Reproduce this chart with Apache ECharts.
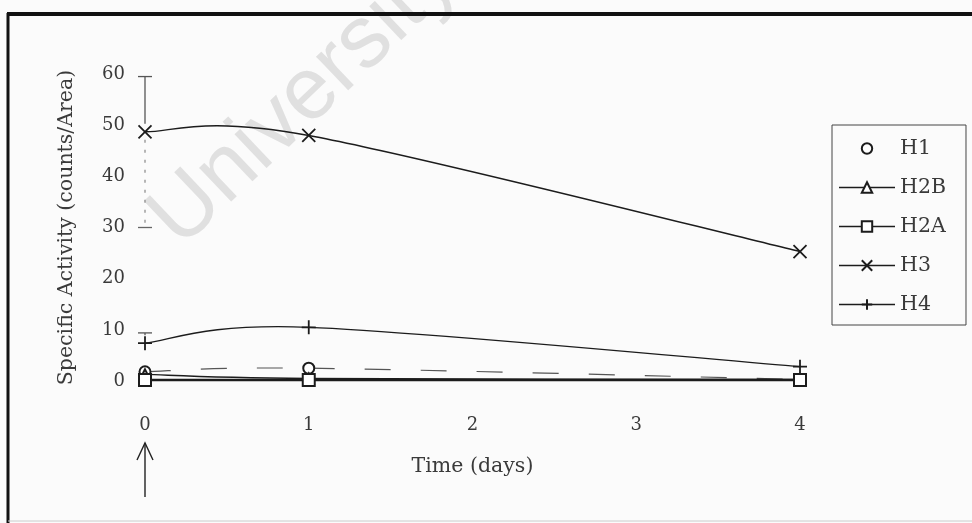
<!DOCTYPE html>
<html>
<head>
<meta charset="utf-8">
<script src="https://cdn.jsdelivr.net/npm/echarts@6/dist/echarts.min.js"></script>
<style>
  html, body { margin: 0; padding: 0; background: #fbfbfb; }
  #chart { width: 972px; height: 523px; }
</style>
</head>
<body>
<div id="chart"></div>
<script>
// Sampling times (days after injection) and specific activity per histone
const days = [0, 1, 4];
const xTickValues = [0, 1, 2, 3, 4];
const yTickValues = [0, 10, 20, 30, 40, 50, 60];
const seriesNames = ['H1', 'H2B', 'H2A', 'H3', 'H4'];
const h1 = [1.8, 2.5, 0.3];
const h2b = [1.3, 0.5, 0.3];
const h2a = [0.2, 0.2, 0.2];
const h3 = [48.7, 48.0, 25.3];
const h4 = [7.4, 10.5, 2.8];
// Error bars at day 0: [day, mean, low, high]
const h3Err = [[0, 48.7, 30.0, 59.5]];
const h4Err = [[0, 7.4, 7.4, 9.4]];

const SERIF = '"DejaVu Serif", "Liberation Serif", serif';
const INK = '#1c1c1c';
const TEXT = '#3a3a3a';

function pairs(ys) { return days.map((d, i) => [d, ys[i]]); }

// Smoothed connector: cubic Bezier per segment, control arms = 1/6 of the
// neighbour-to-neighbour chord (end points reuse themselves as neighbours)
function curveSeries(name, ys, lineStyle, z) {
  return {
    name: name, type: 'custom', data: pairs(ys), z: z, silent: true,
    encode: { x: 0, y: 1 },
    renderItem: function (params, api) {
      const i = params.dataIndex;
      if (i >= days.length - 1) return null;
      const n = days.length;
      const pt = k => api.coord([days[Math.max(0, Math.min(n - 1, k))], ys[Math.max(0, Math.min(n - 1, k))]]);
      const p0 = pt(i - 1), p1 = pt(i), p2 = pt(i + 1), p3 = pt(i + 2);
      return {
        type: 'bezierCurve',
        shape: {
          x1: p1[0], y1: p1[1], x2: p2[0], y2: p2[1],
          cpx1: p1[0] + (p2[0] - p0[0]) / 6, cpy1: p1[1] + (p2[1] - p0[1]) / 6,
          cpx2: p2[0] - (p3[0] - p1[0]) / 6, cpy2: p2[1] - (p3[1] - p1[1]) / 6
        },
        style: Object.assign({ fill: null }, lineStyle)
      };
    }
  };
}

function errorBar(params, api) {
  const x = api.value(0), m = api.value(1), lo = api.value(2), hi = api.value(3);
  const pM = api.coord([x, m]), pLo = api.coord([x, lo]), pHi = api.coord([x, hi]);
  const cap = 7;
  const kids = [];
  if (hi > m) {
    kids.push({ type: 'line', shape: { x1: pHi[0], y1: pHi[1], x2: pM[0], y2: pM[1] - 8 },
      style: { stroke: '#555', lineWidth: 1.3 } });
    kids.push({ type: 'line', shape: { x1: pHi[0] - cap, y1: pHi[1], x2: pHi[0] + cap, y2: pHi[1] },
      style: { stroke: '#555', lineWidth: 1.3 } });
  }
  if (lo < m) {
    kids.push({ type: 'line', shape: { x1: pM[0], y1: pM[1] + 8, x2: pLo[0], y2: pLo[1] },
      style: { stroke: '#888', lineWidth: 1.2, lineDash: [3, 7] } });
    kids.push({ type: 'line', shape: { x1: pLo[0] - cap, y1: pLo[1], x2: pLo[0] + cap, y2: pLo[1] },
      style: { stroke: '#666', lineWidth: 1.3 } });
  }
  return { type: 'group', children: kids };
}

const xMark = 'path://M0,0L10,10M10,0L0,10';
const plusMark = 'path://M5,0L5,10M0,5L10,5';
const hidden = { opacity: 0 };

const chart = echarts.init(document.getElementById('chart'), null, { renderer: 'canvas' });

chart.setOption({
  backgroundColor: '#fbfbfb',
  animation: false,
  grid: { left: 145, right: 172, top: 74, bottom: 142 },
  xAxis: {
    type: 'value', min: 0, max: 4, interval: 1,
    axisLine: { show: false }, axisTick: { show: false }, splitLine: { show: false },
    axisLabel: { margin: 35, fontFamily: SERIF, fontSize: 18, color: TEXT,
      formatter: v => xTickValues.includes(v) ? String(v) : '' },
    name: 'Time (days)', nameLocation: 'middle', nameGap: 75,
    nameTextStyle: { fontFamily: SERIF, fontSize: 20.5, color: TEXT }
  },
  yAxis: {
    type: 'value', min: 0, max: 60, interval: 10,
    axisLine: { show: false }, axisTick: { show: false }, splitLine: { show: false },
    axisLabel: { margin: 20, fontFamily: SERIF, fontSize: 18, color: TEXT,
      formatter: v => yTickValues.includes(v) ? String(v) : '' },
    name: 'Specific Activity (counts/Area)', nameLocation: 'middle', nameGap: 68,
    nameTextStyle: { fontFamily: SERIF, fontSize: 20.5, color: TEXT }
  },
  legend: {
    orient: 'vertical', left: 832, top: 125,
    padding: [13, 20, 10, 6],
    borderColor: '#444', borderWidth: 1,
    itemWidth: 56, itemHeight: 13, itemGap: 18,
    textStyle: { fontFamily: SERIF, fontSize: 20.5, color: TEXT, lineHeight: 20 },
    data: [
      { name: 'H1', lineStyle: { opacity: 0 } },
      { name: 'H2B', lineStyle: { opacity: 1, color: INK, width: 1.4 } },
      { name: 'H2A', lineStyle: { opacity: 1, color: INK, width: 1.6 } },
      { name: 'H3', lineStyle: { opacity: 1, color: INK, width: 1.4 } },
      { name: 'H4', lineStyle: { opacity: 1, color: INK, width: 1.4 } }
    ]
  },
  series: [
    curveSeries('H1 curve', h1, { stroke: '#555', lineWidth: 1.2, lineDash: [26, 30] }, 2),
    curveSeries('H2B curve', h2b, { stroke: INK, lineWidth: 1.4 }, 2),
    curveSeries('H2A curve', h2a, { stroke: INK, lineWidth: 2.6 }, 2),
    curveSeries('H3 curve', h3, { stroke: INK, lineWidth: 1.5 }, 2),
    curveSeries('H4 curve', h4, { stroke: INK, lineWidth: 1.3 }, 2),
    { name: seriesNames[0], type: 'line', data: pairs(h1),
      symbol: 'emptyCircle', symbolSize: 11, lineStyle: hidden,
      itemStyle: { color: INK, borderWidth: 1.4 }, z: 3 },
    { name: seriesNames[1], type: 'line', data: pairs(h2b),
      symbol: 'emptyTriangle', symbolSize: 10, lineStyle: hidden,
      itemStyle: { color: INK, borderWidth: 1.4 }, z: 3 },
    { name: seriesNames[2], type: 'line', data: pairs(h2a),
      symbol: 'emptyRect', symbolSize: 12, lineStyle: hidden,
      itemStyle: { color: INK, borderWidth: 1.4 }, z: 4 },
    { name: seriesNames[3], type: 'line', data: pairs(h3),
      symbol: xMark, symbolSize: 13, lineStyle: hidden,
      itemStyle: { color: 'rgba(0,0,0,0)', borderColor: INK, borderWidth: 1.8 }, z: 3 },
    { name: seriesNames[4], type: 'line', data: pairs(h4),
      symbol: plusMark, symbolSize: 14, lineStyle: hidden,
      itemStyle: { color: 'rgba(0,0,0,0)', borderColor: INK, borderWidth: 1.8 }, z: 3 },
    { name: 'H3 error', type: 'custom', renderItem: errorBar, data: h3Err,
      encode: { x: 0, y: [2, 3] }, z: 2, silent: true },
    { name: 'H4 error', type: 'custom', renderItem: errorBar, data: h4Err,
      encode: { x: 0, y: [2, 3] }, z: 2, silent: true }
  ]
});

// Injection arrow under day 0, page frame and watermark
const x0 = chart.convertToPixel({ xAxisIndex: 0 }, 0);
chart.setOption({
  graphic: [
    { type: 'text', x: 164, y: 232, rotation: 0.76, z: -10, silent: true,
      style: { text: 'University', fill: '#e0e0e0', verticalAlign: 'middle',
        font: '88px "Liberation Sans", Arial, sans-serif' } },
    { type: 'line', shape: { x1: x0, y1: 443, x2: x0, y2: 497 },
      style: { stroke: '#222', lineWidth: 1.4 } },
    { type: 'polyline', shape: { points: [[x0 - 8, 460], [x0, 443], [x0 + 8, 460]] },
      style: { stroke: '#222', lineWidth: 1.4, fill: null } },
    { type: 'line', shape: { x1: 8, y1: 13, x2: 8, y2: 523 },
      style: { stroke: '#111', lineWidth: 3 } },
    { type: 'line', shape: { x1: 7, y1: 14, x2: 972, y2: 14 },
      style: { stroke: '#111', lineWidth: 4 } },
    { type: 'line', shape: { x1: 8, y1: 521, x2: 972, y2: 521 },
      style: { stroke: '#ccc', lineWidth: 1 } }
  ]
});
</script>
</body>
</html>
